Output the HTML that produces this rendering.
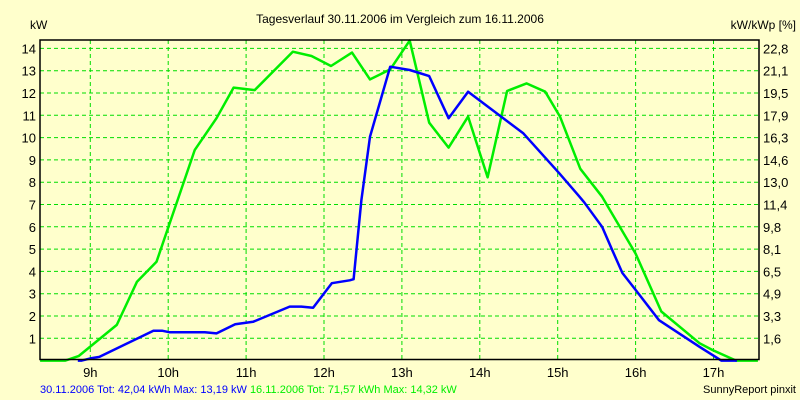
<!DOCTYPE html>
<html><head><meta charset="utf-8"><style>
body{margin:0;background:#FFFFCC;}
svg{display:block;font-family:"Liberation Sans",sans-serif;}
</style></head><body>
<svg id="chart" width="800" height="400" viewBox="0 0 800 400">
<rect x="0" y="0" width="800" height="400" fill="#FFFFCC"/>
<text x="400" y="23" font-size="12" text-anchor="middle" fill="#000">Tagesverlauf 30.11.2006 im Vergleich zum 16.11.2006</text>
<text x="30" y="29" font-size="12" fill="#000">kW</text>
<text x="796" y="29" font-size="12" fill="#000" text-anchor="end">kW/kWp [%]</text>
<g id="grid"></g>
<g id="series"></g>
<rect x="40" y="40" width="719" height="319.5" fill="none" stroke="#000" stroke-width="1.5"/>
<g id="labels"></g>
<text x="40" y="393" font-size="11"><tspan fill="#0000FF">30.11.2006 Tot: 42,04 kWh Max: 13,19 kW </tspan><tspan fill="#00EE00">16.11.2006 Tot: 71,57 kWh Max: 14,32 kW</tspan></text>
<text x="796" y="393" font-size="11" text-anchor="end" fill="#000">SunnyReport pinxit</text>
</svg>
<script>
const leftTicks = [1,2,3,4,5,6,7,8,9,10,11,12,13,14];
const rightTickLabels = ["1,6","3,3","4,9","6,5","8,1","9,8","11,4","13,0","14,6","16,3","17,9","19,5","21,1","22,8"];
const hourTicks = [9,10,11,12,13,14,15,16,17];
const blueHours = [8.84,8.89,9.0,9.12,9.81,9.92,10.02,10.47,10.62,10.86,11.09,11.56,11.71,11.86,12.1,12.33,12.38,12.48,12.59,12.85,13.1,13.35,13.6,13.85,14.56,15.02,15.26,15.34,15.57,15.7,15.83,16.0,16.3,16.82,17.1,17.3];
const blueValues = [0,0,0.1,0.17,1.34,1.34,1.27,1.27,1.22,1.63,1.74,2.42,2.42,2.37,3.47,3.6,3.65,7.2,10.04,13.18,13.03,12.76,10.87,12.06,10.19,8.4,7.43,7.1,6.0,4.96,3.93,3.17,1.81,0.62,0,0];
const greenHours = [8.355,8.68,8.85,9.34,9.6,9.85,10.34,10.62,10.84,11.11,11.6,11.84,12.09,12.36,12.59,12.85,13.1,13.35,13.6,13.85,14.1,14.35,14.6,14.84,15.03,15.29,15.57,16.0,16.33,16.82,16.99,17.29,17.57];
const greenValues = [0,0,0.2,1.6,3.54,4.43,9.44,10.87,12.24,12.13,13.85,13.66,13.21,13.81,12.61,13.06,14.35,10.67,9.55,10.94,8.22,12.09,12.43,12.06,10.94,8.6,7.35,4.8,2.2,0.78,0.47,0,0];

const X0=40,X1=759,Y0=40,Y1=359.5;
const xs=h=>90.3+(h-9)*77.9;
const ys=v=>360.6-v*22.3;
const NS="http://www.w3.org/2000/svg";
const grid=document.getElementById('grid'),labels=document.getElementById('labels'),series=document.getElementById('series');
function mk(tag,attrs,parent){const e=document.createElementNS(NS,tag);for(const k in attrs)e.setAttribute(k,attrs[k]);parent.appendChild(e);return e;}
leftTicks.forEach((v,i)=>{
  const y=ys(v);
  const l=mk('line',{x1:X0,x2:X1,y1:y,y2:y,stroke:'#00DD00','stroke-dasharray':'4,3'},grid);
  
  
  const t=mk('text',{x:36,y:y+5,'font-size':13,'text-anchor':'end',fill:'#000'},labels);
  t.textContent=v;
  
  
  const r=mk('text',{x:763,y:y+5,'font-size':13,fill:'#000'},labels);
  r.textContent=rightTickLabels[i];
  
  
});
hourTicks.forEach(h=>{
  const x=xs(h);
  const l=mk('line',{x1:x,x2:x,y1:Y0,y2:Y1,stroke:'#00DD00','stroke-dasharray':'4,3'},grid);
  
  
  const t=mk('text',{x:x,y:377,'font-size':13,'text-anchor':'middle',fill:'#000'},labels);
  t.textContent=h+'h';
  
  
});
function line(hs,vs,color,name){
  const pts=hs.map((h,i)=>xs(h).toFixed(1)+','+ys(vs[i]).toFixed(1)).join(' ');
  const p=mk('polyline',{points:pts,fill:'none',stroke:color,'stroke-width':2.5,'stroke-linejoin':'round'},series);
  
  
}
line(greenHours,greenValues,'#00EE00','series-16-11-2006');
line(blueHours,blueValues,'#0000FF','series-30-11-2006');
</script>
</body></html>
